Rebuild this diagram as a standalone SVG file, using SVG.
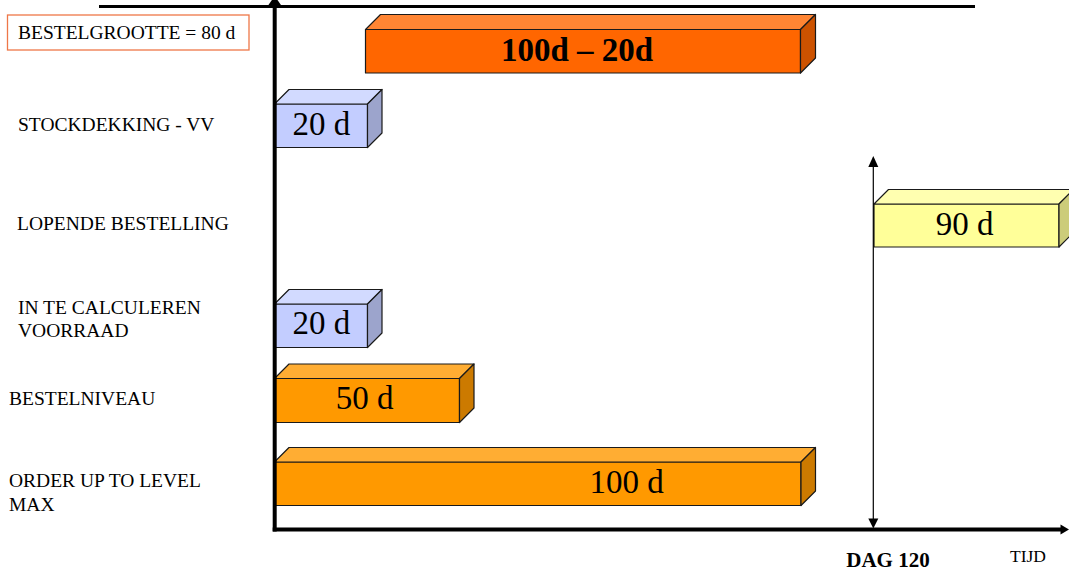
<svg xmlns="http://www.w3.org/2000/svg" width="1069" height="572" viewBox="0 0 1069 572">
<style>
text{font-family:"Liberation Serif","Times New Roman",serif;fill:#000}
.lbl{font-size:19.5px}
.num{font-size:33px;text-anchor:middle}
.bold{font-weight:bold}
.edge{stroke:#1a1a1a;stroke-width:1.2;stroke-linejoin:round}
.red .f{fill:#FF6600}.red .t{fill:#FF8533}.red .s{fill:#CC5200}
.blue .f{fill:#C3CDFF}.blue .t{fill:#D2DAFF}.blue .s{fill:#9CA4CC}
.org .f{fill:#FF9900}.org .t{fill:#FFAD33}.org .s{fill:#CC7A00}
.yel .f{fill:#FFFF99}.yel .t{fill:#FFFFB0}.yel .s{fill:#CCCC7A}
</style>
<rect width="1069" height="572" fill="#fff"/>
<g id="labels">
<g id="bestelgrootte">
<rect x="7.5" y="15" width="241.5" height="35" fill="#fff" stroke="#EE7748" stroke-width="1.3"/>
<text class="lbl" x="18" y="39">BESTELGROOTTE = 80 d</text>
</g>
<text id="lbl-stock" class="lbl" x="18" y="131">STOCKDEKKING - VV</text>
<text id="lbl-lopende" class="lbl" x="17" y="230">LOPENDE BESTELLING</text>
<text id="lbl-calc" class="lbl"><tspan x="18" y="314.3">IN TE CALCULEREN</tspan><tspan x="18" y="336.7">VOORRAAD</tspan></text>
<text id="lbl-niveau" class="lbl" x="9" y="405">BESTELNIVEAU</text>
<text id="lbl-order" class="lbl"><tspan x="9" y="487.3">ORDER UP TO LEVEL</tspan><tspan x="9" y="511">MAX</tspan></text>
</g>
<g id="box-100-20" class="red edge">
<rect class="f" x="365.5" y="29.5" width="435" height="43.5"/>
<polygon class="t" points="365.5,29.5 380.5,14.5 815.5,14.5 800.5,29.5"/>
<polygon class="s" points="800.5,29.5 815.5,14.5 815.5,58 800.5,73"/>
<text class="num bold" x="577" y="61" stroke="none">100d – 20d</text>
</g>
<g id="box-stock" class="blue edge">
<rect class="f" x="274.5" y="104" width="93" height="43.5"/>
<polygon class="t" points="274.5,104 289,89.5 382,89.5 367.5,104"/>
<polygon class="s" points="367.5,104 382,89.5 382,133 367.5,147.5"/>
<text class="num" x="321.3" y="135" stroke="none">20 d</text>
</g>
<g id="box-90" class="yel edge">
<rect class="f" x="874" y="204" width="185" height="43"/>
<polygon class="t" points="874,204 888.5,189.5 1073.5,189.5 1059,204"/>
<polygon class="s" points="1059,204 1073.5,189.5 1073.5,232.5 1059,247"/>
<text class="num" x="964.7" y="235" stroke="none">90 d</text>
</g>
<g id="box-calc" class="blue edge">
<rect class="f" x="274.5" y="304" width="93" height="43.5"/>
<polygon class="t" points="274.5,304 289,289.5 382,289.5 367.5,304"/>
<polygon class="s" points="367.5,304 382,289.5 382,333 367.5,347.5"/>
<text class="num" x="321.3" y="334.3" stroke="none">20 d</text>
</g>
<g id="box-50" class="org edge">
<rect class="f" x="274.5" y="378.5" width="185" height="44"/>
<polygon class="t" points="274.5,378.5 289,364 474,364 459.5,378.5"/>
<polygon class="s" points="459.5,378.5 474,364 474,408 459.5,422.5"/>
<text class="num" x="364.7" y="409.3" stroke="none">50 d</text>
</g>
<g id="box-100" class="org edge">
<rect class="f" x="274.5" y="462" width="526.5" height="43.5"/>
<polygon class="t" points="274.5,462 289,447.5 815.5,447.5 801,462"/>
<polygon class="s" points="801,462 815.5,447.5 815.5,491 801,505.5"/>
<text class="num" x="626.5" y="492.7" stroke="none">100 d</text>
</g>
<g id="connectors">
<line x1="99" y1="6.5" x2="975" y2="6.5" stroke="#000" stroke-width="3.2"/>
<line x1="274.7" y1="531.5" x2="274.7" y2="5" stroke="#000" stroke-width="4"/>
<polygon points="274.7,-4 266.7,7.5 282.7,7.5" fill="#000"/>
<line x1="272.7" y1="529.5" x2="1062" y2="529.5" stroke="#000" stroke-width="4"/>
<polygon points="1069,529.5 1060.5,524.5 1060.5,534.5" fill="#000"/>
<line x1="873.3" y1="166" x2="873.3" y2="519" stroke="#000" stroke-width="1.2"/>
<polygon points="873.3,156 868.3,167 878.3,167" fill="#000"/>
<polygon points="873.3,528.5 868.3,518.5 878.3,518.5" fill="#000"/>
</g>
<g id="axis-labels">
<text x="888" y="566.7" font-size="21px" font-weight="bold" text-anchor="middle">DAG 120</text>
<text x="1010" y="561.7" font-size="17.5px">TIJD</text>
</g>
</svg>
